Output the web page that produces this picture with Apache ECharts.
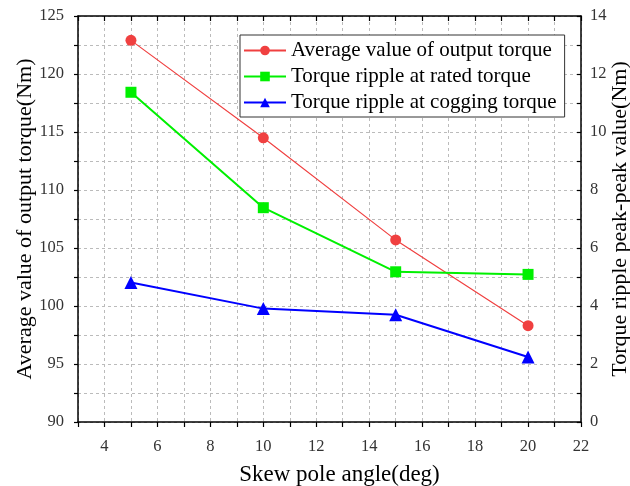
<!DOCTYPE html>
<html>
<head>
<meta charset="utf-8">
<script src="https://cdn.jsdelivr.net/npm/echarts@6/dist/echarts.min.js"></script>
<style>
  html, body { margin: 0; padding: 0; background: #fff; }
  #chart { width: 630px; height: 486px; }
</style>
</head>
<body>
<div id="chart"></div>
<script>
// Skew pole angle (deg)
const angles = [5, 10, 15, 20];
// Average output torque (Nm), left axis
const avgTorque = [122.9, 114.5, 105.7, 98.3];
// Torque ripple peak-peak (Nm), right axis
const rippleRated = [11.37, 7.39, 5.18, 5.09];
const rippleCogging = [4.81, 3.91, 3.70, 2.24];

const seriesNames = [
  'Average value of output torque',
  'Torque ripple at rated torque',
  'Torque ripple at cogging torque'
];

const serif = '"Liberation Serif", "DejaVu Serif", serif';
const pair = (xs, ys) => xs.map((x, i) => [x, ys[i]]);

const chart = echarts.init(document.getElementById('chart'));

const axisLine = { show: true, onZero: false, lineStyle: { color: '#000', width: 1.5 } };
const dashed = { show: true, lineStyle: { color: '#bbbbbb', type: [3, 3], width: 1 } };
const labelStyle = { color: '#333', fontFamily: serif, fontSize: 16.5 };
const titleStyle = { fontFamily: serif, fontSize: 22, color: '#000' };

chart.setOption({
  animation: false,
  backgroundColor: '#fff',
  grid: { left: 78, right: 49, top: 16, bottom: 64, containLabel: false, outerBoundsMode: 'none' },
  legend: {
    orient: 'vertical',
    left: 240,
    top: 35,
    data: seriesNames,
    itemWidth: 42,
    itemHeight: 12,
    itemGap: 5,
    padding: [5, 8, 4, 3],
    borderColor: '#333',
    borderWidth: 1,
    backgroundColor: '#fff',
    textStyle: { fontFamily: serif, fontSize: 21, color: '#000' }
  },
  xAxis: [
    {
      type: 'value', min: 3, max: 22, interval: 1,
      name: 'Skew pole angle(deg)', nameLocation: 'middle', nameGap: 41,
      nameMoveOverlap: false,
      nameTextStyle: Object.assign({}, titleStyle, { fontSize: 23, padding: [0, 0, 0, 20] }),
      axisLine: axisLine,
      axisTick: { show: true, inside: false, length: 5, lineStyle: { color: '#000', width: 1.2 } },
      axisLabel: Object.assign({}, labelStyle, {
        margin: 16,
        formatter: v => (v % 2 === 0 ? String(v) : '')
      }),
      splitLine: dashed
    },
    {
      type: 'value', position: 'top', min: 3, max: 22, interval: 1,
      axisLine: axisLine,
      axisTick: { show: true, inside: true, length: 5, lineStyle: { color: '#000', width: 1.2 } },
      axisLabel: { show: false },
      splitLine: { show: false }
    }
  ],
  yAxis: [
    {
      type: 'value', min: 90, max: 125, interval: 2.5,
      name: 'Average value of output torque(Nm)', nameLocation: 'middle', nameGap: 42,
      nameMoveOverlap: false,
      nameTextStyle: titleStyle,
      axisLine: axisLine,
      axisTick: { show: true, inside: false, length: 4, lineStyle: { color: '#000', width: 1.2 } },
      axisLabel: Object.assign({}, labelStyle, {
        margin: 14,
        formatter: v => (v % 5 === 0 ? String(v) : '')
      }),
      splitLine: dashed
    },
    {
      type: 'value', position: 'right', min: 0, max: 14, interval: 1,
      name: 'Torque ripple peak-peak value(Nm)', nameLocation: 'middle', nameGap: 28,
      nameMoveOverlap: false,
      nameTextStyle: titleStyle,
      axisLine: axisLine,
      axisTick: { show: true, inside: true, length: 4, lineStyle: { color: '#000', width: 1.2 } },
      axisLabel: Object.assign({}, labelStyle, {
        margin: 9,
        formatter: v => (v % 2 === 0 ? String(v) : '')
      }),
      splitLine: { show: false }
    }
  ],
  series: [
    {
      name: seriesNames[0], type: 'line', yAxisIndex: 0,
      data: pair(angles, avgTorque),
      symbol: 'circle', symbolSize: 11,
      lineStyle: { color: '#f04040', width: 1.2 },
      itemStyle: { color: '#f04040' }
    },
    {
      name: seriesNames[1], type: 'line', yAxisIndex: 1,
      data: pair(angles, rippleRated),
      symbol: 'rect', symbolSize: 11,
      lineStyle: { color: '#00f000', width: 2 },
      itemStyle: { color: '#00f000' }
    },
    {
      name: seriesNames[2], type: 'line', yAxisIndex: 1,
      data: pair(angles, rippleCogging),
      symbol: 'triangle', symbolSize: 13,
      lineStyle: { color: '#0000ff', width: 2 },
      itemStyle: { color: '#0000ff' }
    }
  ]
});
</script>
</body>
</html>
